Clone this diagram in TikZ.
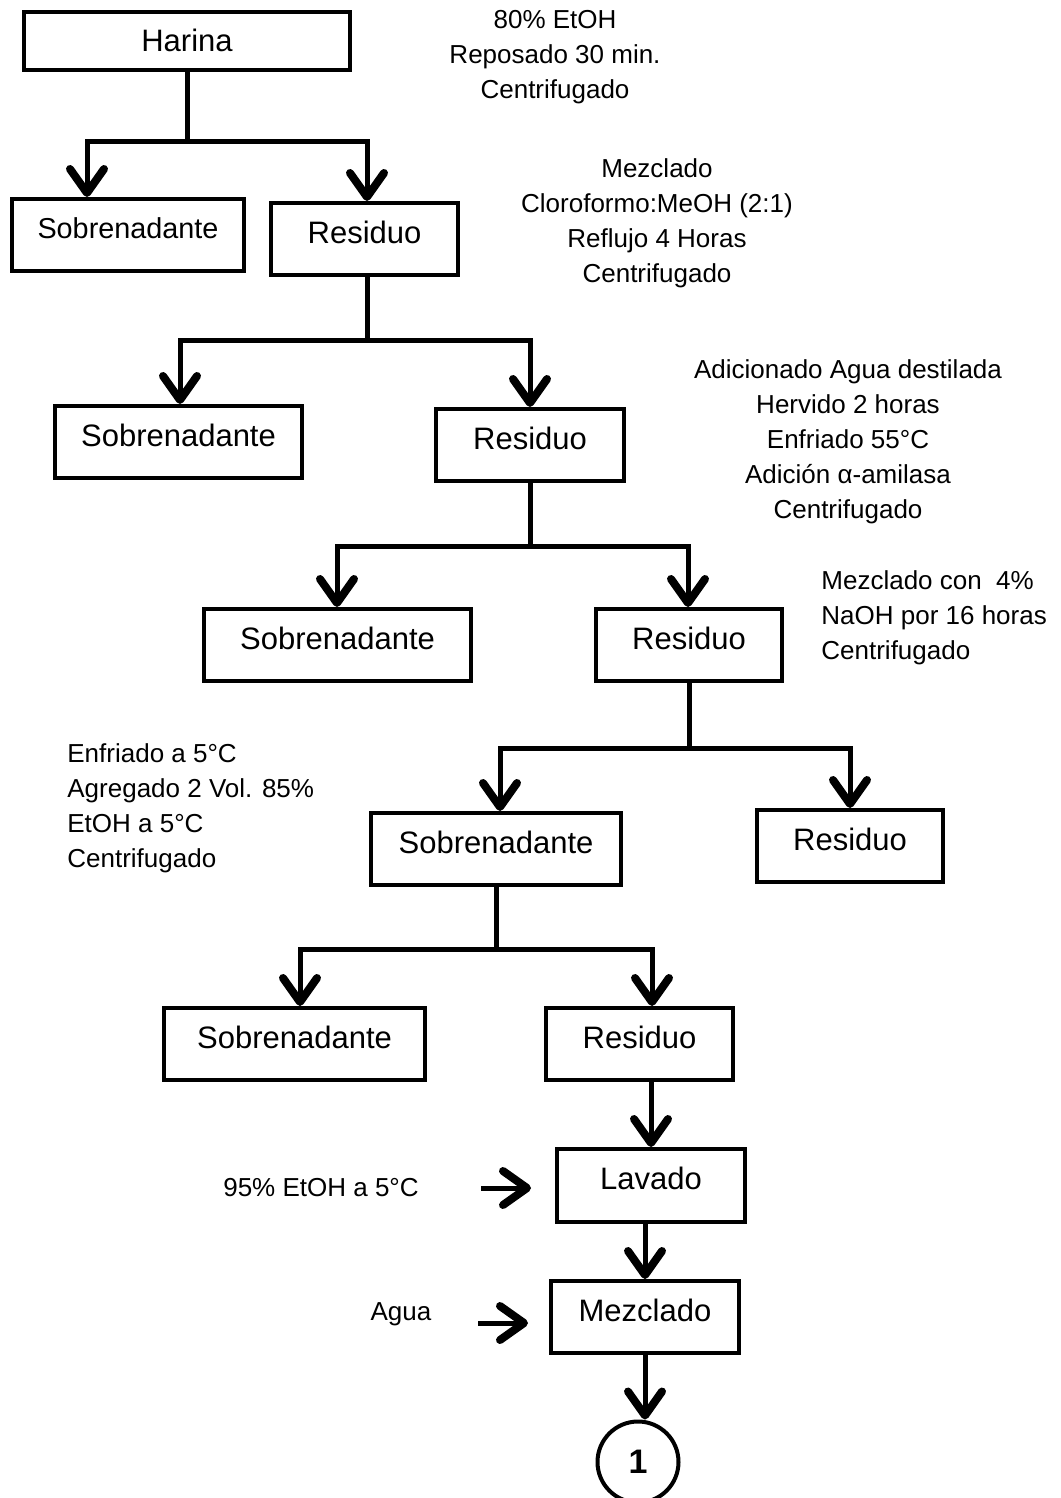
\documentclass[tikz,border=0pt]{standalone}
\usepackage{fontspec}
\setmainfont{Liberation Sans}
\usetikzlibrary{arrows.meta}

\begin{document}
\begin{tikzpicture}[%
    x=0.5pt, y=-0.5pt,          % One unit per pixel, counted downwards
    >={Straight Barb[length=12pt, width=17pt, line width=4pt, round]}, % Open arrow heads
    every node/.style={inner sep=0pt},
    ]
% -------------------------------------------------
% A few box styles
\tikzset{
  base/.style={draw, line width=2pt, align=center, minimum height=36pt,
    font=\fontsize{15.5}{18}\selectfont, text height=11pt, text depth=7pt},
  proc/.style={base, rectangle},
  conn/.style={circle, draw, line width=2pt, minimum size=40.5pt,
    font=\fontsize{17}{19}\selectfont\bfseries},
  % Connector line styles
  norm/.style={draw, line width=2.5pt},
  note/.style={align=center, font=\fontsize{13}{17.5}\selectfont},
  notel/.style={note, align=left, anchor=west},
}
\useasboundingbox (0,0) rectangle (1060,1498);
% -------------------------------------------------
% Start by placing the boxes
\node [proc, minimum width=163pt, minimum height=29pt,
       text height=11pt, text depth=0pt] (har) at (187,41) {Harina};
\node [proc, minimum width=116pt,
       font=\fontsize{14.4}{17}\selectfont] (s1) at (128,235) {Sobrenadante};
\node [proc, minimum width=93.5pt] (r1) at (364.5,239) {Residuo};
\node [proc, minimum width=123.5pt] (s2) at (178.5,442) {Sobrenadante};
\node [proc, minimum width=94pt] (r2) at (530,445) {Residuo};
\node [proc, minimum width=133.5pt] (s3) at (337.5,645) {Sobrenadante};
\node [proc, minimum width=93pt] (r3) at (689,645) {Residuo};
\node [proc, minimum width=125pt] (s4) at (496,849) {Sobrenadante};
\node [proc, minimum width=93pt] (r4) at (850,846) {Residuo};
\node [proc, minimum width=130.5pt] (s5) at (294.5,1044) {Sobrenadante};
\node [proc, minimum width=93.5pt] (r5) at (639.5,1044) {Residuo};
\node [proc, minimum width=94pt, minimum height=36.5pt] (lav) at (651,1185.5) {Lavado};
\node [proc, minimum width=94pt] (mez) at (645,1317) {Mezclado};
\node [conn] (c1) at (638,1462) {1};
% -------------------------------------------------
% Treatment notes beside each step
\node [note] (n1) at (555,57.5) {80\% EtOH\\Reposado 30 min.\\Centrifugado};
\node [note] (n2) at (657,223.5)
  {Mezclado\\Cloroformo:MeOH (2:1)\\Reflujo 4 Horas\\Centrifugado};
\node [note] (n3) at (848,441.5)
  {Adicionado Agua destilada\\Hervido 2 horas\\Enfriado 55°C\\Adición α-amilasa\\Centrifugado};
\node [notel] (n4) at (821,618) {Mezclado con~ 4\%\\NaOH por 16 horas\\Centrifugado};
\node [notel] (n5) at (67,808)
  {Enfriado a 5°C\\Agregado 2 Vol. 85\%\\EtOH a 5°C\\Centrifugado};
\node [note] (n6) at (321,1188) {95\% EtOH a 5°C};
\node [note] (n7) at (401,1314) {Agua};
% -------------------------------------------------
% Branch points of the splits
\coordinate (j1l) at (87,142);  \coordinate (j1r) at (367,142);
\coordinate (j2l) at (180,340); \coordinate (j2r) at (530,340);
\coordinate (j3l) at (337,546); \coordinate (j3r) at (688,546);
\coordinate (j4l) at (500,748); \coordinate (j4r) at (850,748);
\coordinate (j5l) at (300,949); \coordinate (j5r) at (652,949);
% Free ends of the side inputs
\coordinate (e1a) at (481,1188); \coordinate (e1b) at (531,1188);
\coordinate (e2a) at (478,1323); \coordinate (e2b) at (528,1323);
% -------------------------------------------------
% Connectors
\draw [norm] (har) -- (har |- j1l);
\draw [norm, <->] (j1l |- s1.north) -- (j1l) -- (j1r) -- (j1r |- r1.north);
\draw [norm] (r1.south -| j1r) -- (j1r |- j2l);
\draw [norm, <->] (j2l |- s2.north) -- (j2l) -- (j2r) -- (j2r |- r2.north);
\draw [norm] (r2) -- (r2 |- j3l);
\draw [norm, <->] (j3l |- s3.north) -- (j3l) -- (j3r) -- (j3r |- r3.north);
\draw [norm] (r3) -- (r3 |- j4l);
\draw [norm, <->] (j4l |- s4.north) -- (j4l) -- (j4r) -- (j4r |- r4.north);
\draw [norm] (s4) -- (s4 |- j5l);
\draw [norm, <->] (j5l |- s5.north) -- (j5l) -- (j5r) -- (j5r |- r5.north);
\draw [norm, ->] (r5.south -| lav) -- (lav);
\draw [norm, ->] (lav.south -| mez) -- (mez);
\draw [norm, ->] (mez) -- (mez |- c1.north);
\draw [norm, ->] (e1a) -- (e1b);
\draw [norm, ->] (e2a) -- (e2b);
% -------------------------------------------------
\end{tikzpicture}
\end{document}
